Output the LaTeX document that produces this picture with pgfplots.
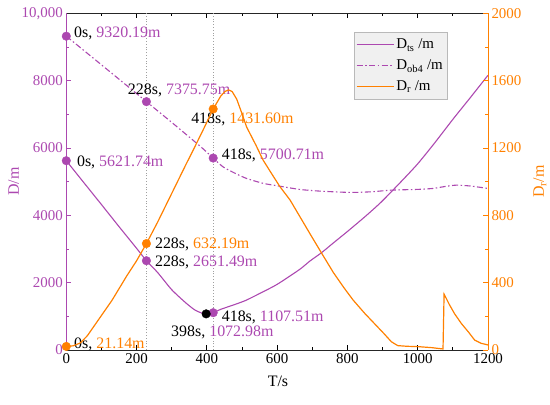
\documentclass[border=0pt]{standalone}
\usepackage{fontspec}
\setmainfont{Liberation Serif}
\usepackage{pgfplots}
\pgfplotsset{compat=1.18}
\definecolor{purp}{RGB}{172,72,176}
\definecolor{orng}{RGB}{255,128,0}
\definecolor{legbg}{RGB}{240,240,240}
\definecolor{legdraw}{RGB}{185,185,185}
\definecolor{guide}{RGB}{160,160,160}
\newcommand{\ft}{\fontsize{15}{18}\selectfont}
\newcommand{\fa}{\fontsize{16}{19}\selectfont}
\newcommand{\fl}{\fontsize{15}{18}\selectfont}
\begin{document}
\begin{tikzpicture}
\path[use as bounding box] (-66.3bp,-55bp) rectangle (483.7bp,350bp);
\begin{axis}[
  at={(0,0)}, anchor=south west,
  scale only axis, width=421.7bp, height=336.7bp,
  xmin=0, xmax=1200, ymin=0, ymax=10000,
  clip=false, scaled ticks=false,
  axis x line*=box, axis y line*=left,
  tick align=inside,
  xtick pos=both,
  major tick length=5bp, minor tick length=3bp,
  xtick={0,200,400,600,800,1000,1200},
  xticklabels={0,200,400,600,800,1000,1200},
  ytick={0,2000,4000,6000,8000,10000},
  yticklabels={0,2000,4000,6000,8000,{10,000}},
  minor x tick num=1, minor y tick num=1,
  x axis line style={black!85, line width=1pt},
  y axis line style={draw=purp, line width=1pt},
  x tick style={black, line width=0.8pt},
  y tick style={purp, line width=0.8pt},
  xticklabel style={font=\ft, black},
  yticklabel style={font=\ft, purp},
  xlabel={T/s}, ylabel={D/m},
  xlabel style={font=\fa, at={(axis description cs:0.502,-0.094)}, anchor=center},
  ylabel style={font=\fa, purp, at={(axis description cs:-0.125,0.5)}, anchor=center},
]
\addplot[guide, dash pattern=on 1bp off 1.8bp, line width=0.8pt, forget plot] coordinates {(228,0) (228,10000)};
\addplot[guide, dash pattern=on 1bp off 1.8bp, line width=0.8pt, forget plot] coordinates {(418,0) (418,10000)};
% D_ts
\addplot[purp, line width=1.1pt, smooth, tension=0.4] coordinates {
(0,5621.74) (50,4970) (100,4320) (150,3665) (200,3020) (228,2651.49)
(260,2300) (300,1790) (340,1400) (366,1187) (385,1100) (398,1072.98) (418,1107.51)
(440,1210) (475,1335) (510,1470) (551,1682) (600,1950) (664,2393) (693,2640)
(726,2888) (760,3180) (800,3520) (850,3960) (892,4353) (925,4700) (960,5080)
(1000,5530) (1046,6120) (1100,6850) (1150,7500) (1200,8160)};
% D_ob4
\addplot[purp, line width=1.1pt, smooth, tension=0.4, dash pattern=on 6bp off 2.5bp on 1.5bp off 2.5bp] coordinates {
(0,9320.19) (100,8470) (228,7375.75) (300,6760) (380,6060) (418,5700.71)
(446,5440) (480,5250) (513,5095) (560,4950) (607,4866) (665,4768) (720,4720)
(807,4680) (870,4700) (925,4748) (1000,4770) (1043,4798) (1080,4860) (1110,4896)
(1150,4870) (1200,4798)};
% markers
\addplot[only marks, mark=*, mark size=4.3bp, purp, forget plot] coordinates {
(0,5621.74) (228,2651.49) (418,1107.51) (0,9320.19) (228,7375.75) (418,5700.71)};
\addplot[only marks, mark=*, mark size=4.3bp, black, forget plot] coordinates {(398,1072.98)};
% annotations
\node[anchor=west, inner sep=0pt, font=\fa] at (axis cs:22,9406) {0s, \textcolor{purp}{9320.19m}};
\node[anchor=west, inner sep=0pt, font=\fa] at (axis cs:175,7722) {228s, \textcolor{purp}{7375.75m}};
\node[anchor=west, inner sep=0pt, font=\fa] at (axis cs:30,5575) {0s, \textcolor{purp}{5621.74m}};
\node[anchor=west, inner sep=0pt, font=\fa] at (axis cs:355,6861) {418s, \textcolor{orng}{1431.60m}};
\node[anchor=west, inner sep=0pt, font=\fa] at (axis cs:442,5791) {418s, \textcolor{purp}{5700.71m}};
\node[anchor=west, inner sep=0pt, font=\fa] at (axis cs:252,3148) {228s, \textcolor{orng}{632.19m}};
\node[anchor=west, inner sep=0pt, font=\fa] at (axis cs:252,2614) {228s, \textcolor{purp}{2651.49m}};
\node[anchor=west, inner sep=0pt, font=\fa] at (axis cs:298,514) {398s, \textcolor{purp}{1072.98m}};
\node[anchor=west, inner sep=0pt, font=\fa] at (axis cs:442,971) {418s, \textcolor{purp}{1107.51m}};
\node[anchor=west, inner sep=0pt, font=\fa] at (axis cs:22,178) {0s, \textcolor{orng}{21.14m}};
\end{axis}
\begin{axis}[
  at={(0,0)}, anchor=south west,
  scale only axis, width=421.7bp, height=336.7bp,
  xmin=0, xmax=1200, ymin=0, ymax=2000,
  clip=false, scaled ticks=false,
  axis x line=none, axis y line*=right,
  tick align=inside,
  major tick length=5bp, minor tick length=3bp,
  ytick={0,400,800,1200,1600,2000},
  yticklabels={0,400,800,1200,1600,2000},
  minor y tick num=1,
  y axis line style={draw=orng, line width=1pt},
  y tick style={orng, line width=0.8pt},
  yticklabel style={font=\ft, orng},
  ylabel={D\textsubscript{r}/m},
  ylabel style={font=\fa, orng, at={(axis description cs:1.123,0.5)}, anchor=center, rotate=0},
  legend style={at={(0.682,0.945)}, anchor=north west, fill=legbg, draw=legdraw,
    font=\fl, row sep=5.5bp, inner xsep=2bp, inner ysep=5bp},
  legend cell align=left,
  legend image code/.code={\draw[#1] (0bp,0bp) -- (37bp,0bp);},
]
\addlegendimage{purp, line width=1.1pt}
\addlegendentry{D\textsubscript{ts} /m}
\addlegendimage{purp, line width=1.1pt, dash pattern=on 6bp off 2.5bp on 1.5bp off 2.5bp}
\addlegendentry{D\textsubscript{ob4} /m}
\addplot[orng, line width=1.2pt] coordinates {
(0,21.14) (20,25) (40,42) (60,85) (80,145) (100,205) (130,295) (172,440) (200,530) (228,632.19)
(260,760) (300,930) (340,1100) (361,1187) (390,1310) (418,1431.60)
(440,1510) (452,1536) (462,1545) (472,1535) (485,1490) (498,1415) (513,1325) (540,1215)
(560,1128) (585,1045) (607,973) (637,890) (665,791) (695,685) (726,577)
(760,460) (790,370) (816,297) (849,218) (880,150) (905,95) (925,49) (943,26)
(970,22) (1001,20) (1040,14) (1072,6) (1075,332) (1090,270) (1105,215)
(1124,158) (1145,105) (1162,59) (1180,40) (1200,30)};
\addlegendentry{D\textsubscript{r} /m}
\addplot[only marks, mark=*, mark size=4.3bp, orng, forget plot] coordinates {
(0,21.14) (228,632.19) (418,1431.60)};
\end{axis}
\end{tikzpicture}
\end{document}
